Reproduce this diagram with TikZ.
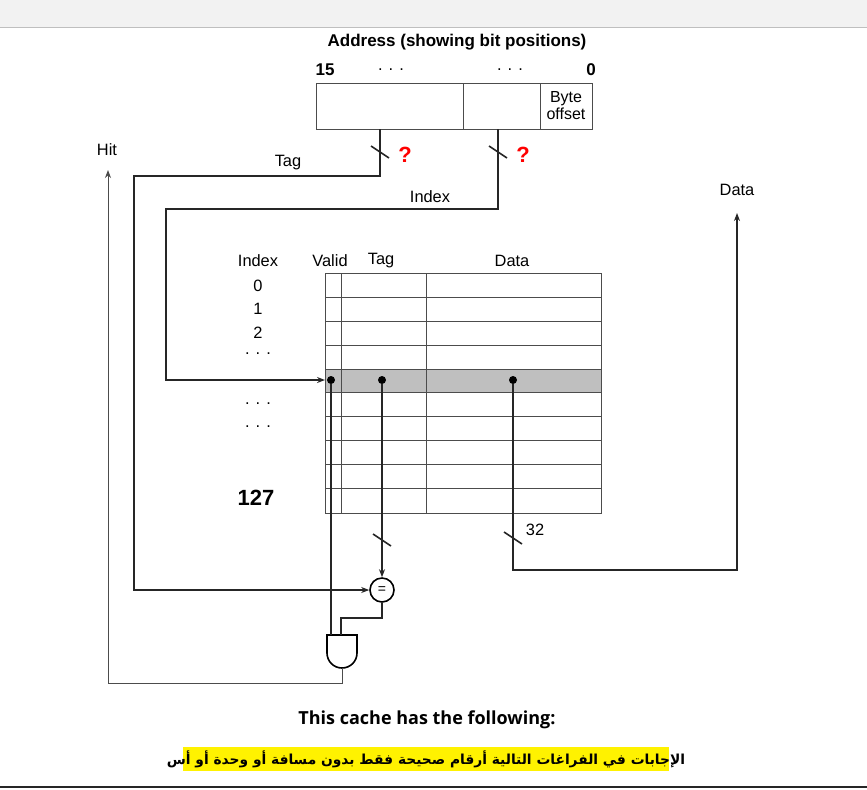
\documentclass[tikz,border=0pt]{standalone}
\usepackage{fontspec}
\setmainfont{Liberation Sans}
\newfontfamily\opensans{Open Sans}
\newfontfamily\arabicfont[Script=Arabic]{DejaVu Sans}
\TeXXeTstate=1
\usetikzlibrary{arrows.meta}
\begin{document}
\begin{tikzpicture}[x=0.5pt,y=-0.5pt,
  lbl/.style={inner sep=0pt,font=\fontsize{8.2}{10}\selectfont},
  blbl/.style={inner sep=0pt,font=\fontsize{8.5}{10}\selectfont\bfseries},
  wire/.style={line width=0.8pt,black!85},
  thin/.style={line width=0.4pt,black!70},
  arr/.style={-{Stealth[length=4pt,width=3pt]}},
  qm/.style={inner sep=0pt,text=red,font=\fontsize{11}{12}\selectfont\bfseries},
  dotn/.style={circle,fill=black,inner sep=0pt,minimum size=4pt}]
\useasboundingbox (0,0) rectangle (867,789);
\fill[black!5] (0,0) rectangle (867,27);
\draw[black!25] (0,27) -- (867,27);
\draw[line width=1pt,black!85] (0,787) -- (867,787);
% address
\node[blbl] (atitle) at (457,42) {Address (showing bit positions)};
\node[blbl] (b15) at (325,70) {15};
\node[blbl] (b0) at (591,70) {0};
\node[lbl] (d1) at (391,70) {. . .};
\node[lbl] (d2) at (510,70) {. . .};
\draw[thin] (316,83) rectangle (592,129);
\draw[thin] (463,83) -- (463,129) (540,83) -- (540,129);
\node[lbl,align=center,font=\fontsize{8}{8.5}\selectfont] (bo) at (566,106) {Byte\\offset};
\coordinate (tagsrc) at (380,129);
\coordinate (idxsrc) at (498,129);
% table
\fill[black!25] (325,369) rectangle (601,392);
\foreach \y in {297,321,345,369,392,416,440,464,488} \draw[thin] (325,\y) -- (601,\y);
\draw[thin] (325,273) rectangle (601,513);
\draw[thin] (341,273) -- (341,513) (426,273) -- (426,513);
\node[lbl] (hidx) at (258,261) {Index};
\node[lbl] (hval) at (330,261) {Valid};
\node[lbl] (htag) at (381,261) {Tag};
\node[lbl] (hdat) at (512,261) {Data};
\node[lbl] (i0) at (258,286) {0};
\node[lbl] (i1) at (258,309) {1};
\node[lbl] (i2) at (258,333) {2};
\node[lbl] (i3) at (258,354) {. . .};
\node[lbl] (i4) at (258,404) {. . .};
\node[lbl] (i5) at (258,427) {. . .};
\node[inner sep=0pt,font=\fontsize{11}{12}\selectfont\bfseries] (i127) at (256,498) {127};
\node[dotn] (vdot) at (331,380) {};
\node[dotn] (tdot) at (382,380) {};
\node[dotn] (ddot) at (513,380) {};
\coordinate (rowin) at (325,380);
% comparator and AND
\node[circle,draw,line width=0.8pt,minimum size=12pt,inner sep=0pt,font=\fontsize{7}{7}\selectfont] (eq) at (382,590) {=};
\draw[line width=0.8pt] (327,635) -- (357,635) -- (357,653) arc (0:180:15) -- cycle;
\coordinate (andout) at (342,668);
% tag wire
\draw[wire,arr] (tagsrc) |- (134,176) |- (eq.west);
\draw[wire] (371,146) -- (389,158);
\node[qm] (q1) at (405,155) {?};
\node[lbl] (ltag) at (288,163) {Tag};
% index wire
\draw[wire,arr] (idxsrc) |- (166,209) |- (rowin);
\draw[wire] (489,146) -- (507,158);
\node[qm] (q2) at (523,155) {?};
\node[lbl] (lidx) at (430,197) {Index};
% valid & tag to compare
\draw[wire] (vdot) -- (331,635);
\draw[wire,arr] (tdot) -- (eq.north);
\draw[wire] (373,534) -- (391,546);
\draw[wire] (eq.south) -- (382,618) -- (341,618) -- (341,635);
% hit
\draw[thin,arr] (andout) -- (342,683) -| (108,170);
\node[lbl] (lhit) at (107,150) {Hit};
% data
\draw[wire,arr] (ddot) |- (737,570) -- (737,213);
\draw[wire] (504,532) -- (522,544);
\node[lbl] (l32) at (535,530) {32};
\node[lbl] (ldata) at (737,190) {Data};
% bottom text
\node[inner sep=0pt,font=\opensans\fontsize{9}{10}\selectfont\bfseries] (cap) at (427,720) {This cache has the following:};
\fill[yellow] (183,747) rectangle (669,771);
\node[inner sep=0pt,font=\fontsize{6.9}{8}\selectfont\bfseries] (ar) at (426,759) {\arabicfont\beginR الإجابات في الفراغات التالية أرقام صحيحة فقط بدون مسافة أو وحدة أو أس\endR};
\end{tikzpicture}
\end{document}
